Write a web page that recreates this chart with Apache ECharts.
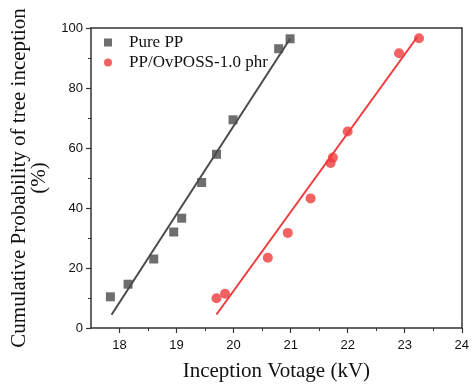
<!DOCTYPE html>
<html>
<head>
<meta charset="utf-8">
<script src="https://cdn.jsdelivr.net/npm/echarts@6/dist/echarts.min.js"></script>
<style>
  html, body { margin: 0; padding: 0; background: #fff; }
  #chart { width: 472px; height: 387px; }
</style>
</head>
<body>
<div id="chart"></div>
<script>
// Pure PP measured points [kV, %]
const purePP = [
  [17.84, 10.4], [18.15, 14.6], [18.6, 23.0], [18.95, 32.0], [19.09, 36.6],
  [19.44, 48.5], [19.7, 57.9], [19.99, 69.4], [20.79, 93.1], [20.99, 96.4],
];
// PP/OvPOSS-1.0 phr measured points [kV, %]
const ppOvposs = [
  [19.7, 9.9], [19.85, 11.4], [20.6, 23.4], [20.95, 31.7], [21.35, 43.2],
  [21.7, 55.0], [21.74, 56.8], [22.0, 65.5], [22.9, 91.6], [23.25, 96.6],
];
// fitted lines, end points
const purePPFit = [[17.86, 4.4], [20.99, 96.4]];
const ppOvpossFit = [[19.7, 4.5], [23.22, 97.0]];

const seriesNames = ["Pure PP", "PP/OvPOSS-1.0 phr"];
// x axis starts at 17.5, so major/minor ticks are listed explicitly
const xMajorTicks = [18, 19, 20, 21, 22, 23, 24];
const xMinorTicks = [18.5, 19.5, 20.5, 21.5, 22.5, 23.5];

const grey = "#4a4a4a";
const red = "#ef3b3b";

const chart = echarts.init(document.getElementById("chart"), null, { renderer: "canvas" });

const axisLine = { lineStyle: { color: "#333", width: 1.5 } };
const tickFont = { color: "#111", fontFamily: "Liberation Sans", fontSize: 13 };
const titleFont = { color: "#111", fontFamily: "Liberation Serif" };

chart.setOption({
  animation: false,
  backgroundColor: "#fff",
  grid: { left: 91, right: 5, top: 28, bottom: 58 },
  legend: {
    left: 99,
    top: 29,
    orient: "vertical",
    itemGap: 3,
    itemWidth: 8,
    itemHeight: 8,
    textStyle: {
      color: "#111",
      fontFamily: "Liberation Serif",
      fontSize: 17,
      padding: [0, 0, 0, 12],
    },
    data: [
      { name: seriesNames[0], icon: "rect", itemStyle: { color: grey } },
      { name: seriesNames[1], icon: "circle", itemStyle: { color: red } },
    ],
  },
  xAxis: [
    {
      type: "value",
      min: 17.5,
      max: 24,
      name: "Inception Votage (kV)",
      nameLocation: "middle",
      nameGap: 33,
      nameTextStyle: Object.assign({ fontSize: 21 }, titleFont),
      axisLine: axisLine,
      axisTick: {
        show: true,
        length: 5,
        customValues: xMajorTicks,
        lineStyle: { color: "#333", width: 1.2 },
      },
      axisLabel: Object.assign({ margin: 11, customValues: xMajorTicks }, tickFont),
      splitLine: { show: false },
    },
    {
      // minor ticks on the bottom axis
      type: "value",
      position: "bottom",
      min: 17.5,
      max: 24,
      axisLine: { show: false },
      axisTick: {
        show: true,
        length: 3,
        customValues: xMinorTicks,
        lineStyle: { color: "#333", width: 1 },
      },
      axisLabel: { show: false },
      splitLine: { show: false },
    },
    {
      type: "value",
      position: "top",
      min: 17.5,
      max: 24,
      axisLine: axisLine,
      axisTick: { show: false },
      axisLabel: { show: false },
      splitLine: { show: false },
    },
  ],
  yAxis: [
    {
      type: "value",
      min: 0,
      max: 100,
      interval: 20,
      name: "Cumulative Probability of tree inception\n(%)",
      nameLocation: "middle",
      nameGap: 40,
      nameTextStyle: Object.assign({ fontSize: 21, lineHeight: 20 }, titleFont),
      axisLine: axisLine,
      axisTick: { show: true, length: 5, lineStyle: { color: "#333", width: 1.2 } },
      minorTick: { show: true, splitNumber: 2, length: 3, lineStyle: { color: "#333", width: 1 } },
      axisLabel: Object.assign({ margin: 8 }, tickFont),
      splitLine: { show: false },
    },
    {
      type: "value",
      position: "right",
      min: 0,
      max: 100,
      axisLine: axisLine,
      axisTick: { show: false },
      axisLabel: { show: false },
      splitLine: { show: false },
    },
  ],
  series: [
    {
      name: seriesNames[0],
      type: "scatter",
      symbol: "rect",
      symbolSize: 9,
      itemStyle: { color: grey },
      data: purePP,
      z: 3,
    },
    {
      name: seriesNames[1],
      type: "scatter",
      symbol: "circle",
      symbolSize: 10,
      itemStyle: { color: red },
      data: ppOvposs,
      z: 3,
    },
    {
      name: "Pure PP fit",
      type: "line",
      showSymbol: false,
      lineStyle: { color: grey, width: 2 },
      data: purePPFit,
      z: 2,
    },
    {
      name: "PP/OvPOSS fit",
      type: "line",
      showSymbol: false,
      lineStyle: { color: red, width: 2 },
      data: ppOvpossFit,
      z: 2,
    },
  ],
});
</script>
</body>
</html>
